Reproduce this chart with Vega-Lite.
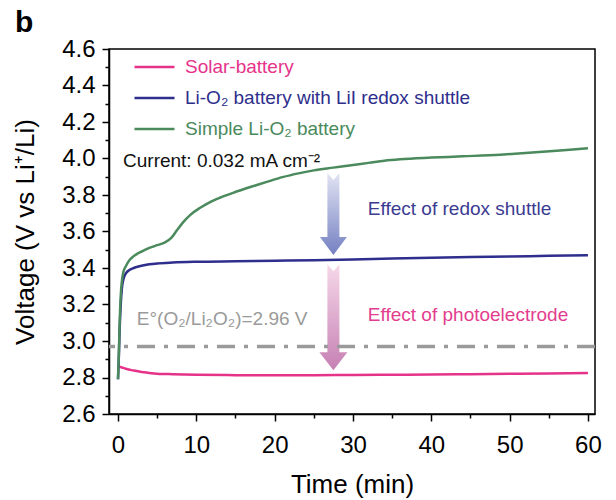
{
  "$schema": "https://vega.github.io/schema/vega-lite/v6.json",
  "width": 486,
  "height": 365,
  "autosize": {"type": "none"},
  "padding": {"left": 109, "top": 49, "right": 21, "bottom": 86},
  "title": {"text": "b", "anchor": "start", "frame": "group", "fontSize": 30, "fontWeight": "bold", "dx": -94, "dy": 41, "offset": 16, "baseline": "alphabetic", "color": "black", "font": "Liberation Sans"},
  "config": {
    "font": "Liberation Sans",
    "view": {"stroke": "black", "strokeWidth": 1.5},
    "axis": {
      "domainColor": "black", "domainWidth": 1.5, "tickColor": "black", "tickWidth": 1.5,
      "labelColor": "black", "labelFontSize": 24, "titleFontSize": 26, "titleFontWeight": "normal", "titleColor": "black",
      "grid": false, "labelFont": "Liberation Sans", "titleFont": "Liberation Sans", "labelOverlap": false
    }
  },
  "datasets": {
    "curves": [
      {"series": "Solar-battery", "t": 0, "v": 2.862},
      {"series": "Solar-battery", "t": 0.5, "v": 2.855},
      {"series": "Solar-battery", "t": 1, "v": 2.848},
      {"series": "Solar-battery", "t": 2, "v": 2.838},
      {"series": "Solar-battery", "t": 3, "v": 2.83},
      {"series": "Solar-battery", "t": 4, "v": 2.825},
      {"series": "Solar-battery", "t": 5, "v": 2.821},
      {"series": "Solar-battery", "t": 7, "v": 2.818},
      {"series": "Solar-battery", "t": 10, "v": 2.815},
      {"series": "Solar-battery", "t": 15, "v": 2.813},
      {"series": "Solar-battery", "t": 20, "v": 2.812},
      {"series": "Solar-battery", "t": 25, "v": 2.812},
      {"series": "Solar-battery", "t": 30, "v": 2.814},
      {"series": "Solar-battery", "t": 35, "v": 2.815},
      {"series": "Solar-battery", "t": 40, "v": 2.816},
      {"series": "Solar-battery", "t": 45, "v": 2.818},
      {"series": "Solar-battery", "t": 50, "v": 2.82},
      {"series": "Solar-battery", "t": 55, "v": 2.822},
      {"series": "Solar-battery", "t": 60, "v": 2.824},
      {"series": "Li-O₂ battery with LiI redox shuttle", "t": 0, "v": 2.79},
      {"series": "Li-O₂ battery with LiI redox shuttle", "t": 0.1, "v": 2.9},
      {"series": "Li-O₂ battery with LiI redox shuttle", "t": 0.2, "v": 3.05},
      {"series": "Li-O₂ battery with LiI redox shuttle", "t": 0.35, "v": 3.2},
      {"series": "Li-O₂ battery with LiI redox shuttle", "t": 0.5, "v": 3.29},
      {"series": "Li-O₂ battery with LiI redox shuttle", "t": 0.7, "v": 3.34},
      {"series": "Li-O₂ battery with LiI redox shuttle", "t": 1, "v": 3.37},
      {"series": "Li-O₂ battery with LiI redox shuttle", "t": 1.5, "v": 3.39},
      {"series": "Li-O₂ battery with LiI redox shuttle", "t": 2, "v": 3.4},
      {"series": "Li-O₂ battery with LiI redox shuttle", "t": 3, "v": 3.412},
      {"series": "Li-O₂ battery with LiI redox shuttle", "t": 4, "v": 3.42},
      {"series": "Li-O₂ battery with LiI redox shuttle", "t": 5, "v": 3.425},
      {"series": "Li-O₂ battery with LiI redox shuttle", "t": 7, "v": 3.43},
      {"series": "Li-O₂ battery with LiI redox shuttle", "t": 10, "v": 3.434},
      {"series": "Li-O₂ battery with LiI redox shuttle", "t": 15, "v": 3.437},
      {"series": "Li-O₂ battery with LiI redox shuttle", "t": 20, "v": 3.44},
      {"series": "Li-O₂ battery with LiI redox shuttle", "t": 25, "v": 3.443},
      {"series": "Li-O₂ battery with LiI redox shuttle", "t": 30, "v": 3.447},
      {"series": "Li-O₂ battery with LiI redox shuttle", "t": 35, "v": 3.452},
      {"series": "Li-O₂ battery with LiI redox shuttle", "t": 40, "v": 3.456},
      {"series": "Li-O₂ battery with LiI redox shuttle", "t": 45, "v": 3.46},
      {"series": "Li-O₂ battery with LiI redox shuttle", "t": 50, "v": 3.463},
      {"series": "Li-O₂ battery with LiI redox shuttle", "t": 55, "v": 3.467},
      {"series": "Li-O₂ battery with LiI redox shuttle", "t": 60, "v": 3.47},
      {"series": "Simple Li-O₂ battery", "t": 0, "v": 2.79},
      {"series": "Simple Li-O₂ battery", "t": 0.1, "v": 2.92},
      {"series": "Simple Li-O₂ battery", "t": 0.2, "v": 3.08},
      {"series": "Simple Li-O₂ battery", "t": 0.35, "v": 3.25},
      {"series": "Simple Li-O₂ battery", "t": 0.5, "v": 3.33},
      {"series": "Simple Li-O₂ battery", "t": 0.7, "v": 3.38},
      {"series": "Simple Li-O₂ battery", "t": 1, "v": 3.41},
      {"series": "Simple Li-O₂ battery", "t": 1.5, "v": 3.445},
      {"series": "Simple Li-O₂ battery", "t": 2, "v": 3.465},
      {"series": "Simple Li-O₂ battery", "t": 3, "v": 3.49},
      {"series": "Simple Li-O₂ battery", "t": 4, "v": 3.51},
      {"series": "Simple Li-O₂ battery", "t": 5, "v": 3.525},
      {"series": "Simple Li-O₂ battery", "t": 6, "v": 3.54},
      {"series": "Simple Li-O₂ battery", "t": 6.8, "v": 3.565},
      {"series": "Simple Li-O₂ battery", "t": 7.5, "v": 3.605},
      {"series": "Simple Li-O₂ battery", "t": 8.3, "v": 3.65},
      {"series": "Simple Li-O₂ battery", "t": 9.2, "v": 3.69},
      {"series": "Simple Li-O₂ battery", "t": 10.5, "v": 3.73},
      {"series": "Simple Li-O₂ battery", "t": 11.7, "v": 3.76},
      {"series": "Simple Li-O₂ battery", "t": 13, "v": 3.785},
      {"series": "Simple Li-O₂ battery", "t": 14.7, "v": 3.812},
      {"series": "Simple Li-O₂ battery", "t": 17, "v": 3.845},
      {"series": "Simple Li-O₂ battery", "t": 19, "v": 3.872},
      {"series": "Simple Li-O₂ battery", "t": 21, "v": 3.898},
      {"series": "Simple Li-O₂ battery", "t": 23.2, "v": 3.92},
      {"series": "Simple Li-O₂ battery", "t": 25, "v": 3.935},
      {"series": "Simple Li-O₂ battery", "t": 27.5, "v": 3.95},
      {"series": "Simple Li-O₂ battery", "t": 30, "v": 3.965},
      {"series": "Simple Li-O₂ battery", "t": 32, "v": 3.976},
      {"series": "Simple Li-O₂ battery", "t": 34, "v": 3.988},
      {"series": "Simple Li-O₂ battery", "t": 36, "v": 3.996},
      {"series": "Simple Li-O₂ battery", "t": 40, "v": 4.005},
      {"series": "Simple Li-O₂ battery", "t": 44, "v": 4.012},
      {"series": "Simple Li-O₂ battery", "t": 48.8, "v": 4.021},
      {"series": "Simple Li-O₂ battery", "t": 52, "v": 4.03},
      {"series": "Simple Li-O₂ battery", "t": 56, "v": 4.043},
      {"series": "Simple Li-O₂ battery", "t": 60, "v": 4.056}
    ],
    "arrows": [
      {"effect": "redox", "t": 27.5, "v": 3.92},
      {"effect": "photo", "t": 27.5, "v": 3.42}
    ],
    "reference": [
      {"name": "E0", "v": 2.97}
    ],
    "notes": [
      {"kind": "current", "t": 0.64, "v": 3.953, "label": "Current: 0.032 mA cm⁻²"},
      {"kind": "redox", "t": 31.9, "v": 3.69, "label": "Effect of redox shuttle"},
      {"kind": "photo", "t": 31.9, "v": 3.109, "label": "Effect of photoelectrode"},
      {"kind": "e0", "t": 2.4, "v": 3.088, "label": "E°(O₂/Li₂O₂)=2.96 V"}
    ]
  },
  "layer": [
    {
      "data": {"name": "curves"},
      "mark": {"type": "line", "strokeWidth": 2.5, "interpolate": "monotone"},
      "encoding": {
        "x": {"field": "t", "type": "quantitative", "title": "Time (min)",
          "scale": {"domain": [-1.15, 60.9], "nice": false, "zero": false},
          "axis": {"values": [0, 5, 10, 15, 20, 25, 30, 35, 40, 45, 50, 55, 60], "tickCount": 100, "labelExpr": "datum.value % 10 === 0 ? format(datum.value, '.0f') : ''",
            "tickSize": {"condition": {"test": "datum.value % 10 === 0", "value": 7}, "value": 4}, "labelPadding": 12, "titlePadding": 14, "labelFlush": false, "labelOverlap": false}},
        "y": {"field": "v", "type": "quantitative", "title": "Voltage (V vs Li⁺/Li)",
          "scale": {"domain": [2.6, 4.6], "nice": false, "zero": false},
          "axis": {"values": [2.6, 2.7, 2.8, 2.9, 3.0, 3.1, 3.2, 3.3, 3.4, 3.5, 3.6, 3.7, 3.8, 3.9, 4.0, 4.1, 4.2, 4.3, 4.4, 4.5, 4.6], "tickCount": 100,
            "labelExpr": "round(datum.value * 10) % 2 === 0 ? format(datum.value, '.1f') : ''",
            "tickSize": {"condition": {"test": "round(datum.value * 10) % 2 === 0", "value": 7}, "value": 4}, "labelPadding": 7, "titlePadding": 23, "labelFlush": false, "labelOverlap": false, "labelBound": false}},
        "color": {"field": "series", "type": "nominal",
          "scale": {"domain": ["Solar-battery", "Li-O₂ battery with LiI redox shuttle", "Simple Li-O₂ battery"], "range": ["#e6338a", "#2e2e8c", "#4a8a5c"]},
          "legend": {"title": null, "orient": "none", "legendX": 24, "legendY": 3, "symbolType": "stroke", "symbolSize": 1600, "symbolStrokeWidth": 2.5,
            "labelFontSize": 19, "labelOffset": 9, "rowPadding": 1, "clipHeight": 30, "padding": 0, "labelLimit": 400, "labelFont": "Liberation Sans",
            "encode": {"labels": {"update": {"fill": {"signal": "scale('color', datum.value)"}}}}}}
      }
    },
    {
      "data": {"name": "arrows"},
      "transform": [{"filter": "datum.effect === 'redox'"}],
      "mark": {"type": "point", "shape": "M -0.6 0 L 0 0.7 L 0.6 0 L 0.6 6.4 L 1.35 6.4 L 0 8.2 L -1.35 6.4 L -0.6 6.4 Z", "size": 400, "filled": true, "opacity": 1, "strokeWidth": 0,
        "fill": {"gradient": "linear", "x1": 0, "y1": 0, "x2": 0, "y2": 1, "stops": [{"offset": 0, "color": "#e2e4f3"}, {"offset": 1, "color": "#7480c2"}]}},
      "encoding": {
        "x": {"field": "t", "type": "quantitative", "title": "Time (min)"},
        "y": {"field": "v", "type": "quantitative", "title": "Voltage (V vs Li⁺/Li)"}
      }
    },
    {
      "data": {"name": "arrows"},
      "transform": [{"filter": "datum.effect === 'photo'"}],
      "mark": {"type": "point", "shape": "M -0.6 0 L 0 0.7 L 0.6 0 L 0.6 8.8 L 1.4 8.8 L 0 10.6 L -1.4 8.8 L -0.6 8.8 Z", "size": 400, "filled": true, "opacity": 1, "strokeWidth": 0,
        "fill": {"gradient": "linear", "x1": 0, "y1": 0, "x2": 0, "y2": 1, "stops": [{"offset": 0, "color": "#f6d8e8"}, {"offset": 1, "color": "#c680b4"}]}},
      "encoding": {
        "x": {"field": "t", "type": "quantitative", "title": "Time (min)"},
        "y": {"field": "v", "type": "quantitative", "title": "Voltage (V vs Li⁺/Li)"}
      }
    },
    {
      "data": {"name": "reference"},
      "mark": {"type": "rule", "color": "#9a9a9a", "strokeWidth": 3.5, "strokeDash": [18, 9, 4, 9]},
      "encoding": {"y": {"field": "v", "type": "quantitative", "title": "Voltage (V vs Li⁺/Li)"}}
    },
    {
      "data": {"name": "notes"},
      "transform": [{"filter": "datum.kind === 'current'"}],
      "mark": {"type": "text", "align": "left", "baseline": "alphabetic", "fontSize": 19, "color": "#111111"},
      "encoding": {"x": {"field": "t", "type": "quantitative", "title": "Time (min)"}, "y": {"field": "v", "type": "quantitative", "title": "Voltage (V vs Li⁺/Li)"}, "text": {"field": "label"}}
    },
    {
      "data": {"name": "notes"},
      "transform": [{"filter": "datum.kind === 'redox'"}],
      "mark": {"type": "text", "align": "left", "baseline": "alphabetic", "fontSize": 19, "color": "#3b3b91"},
      "encoding": {"x": {"field": "t", "type": "quantitative", "title": "Time (min)"}, "y": {"field": "v", "type": "quantitative", "title": "Voltage (V vs Li⁺/Li)"}, "text": {"field": "label"}}
    },
    {
      "data": {"name": "notes"},
      "transform": [{"filter": "datum.kind === 'photo'"}],
      "mark": {"type": "text", "align": "left", "baseline": "alphabetic", "fontSize": 19, "color": "#e23d8e"},
      "encoding": {"x": {"field": "t", "type": "quantitative", "title": "Time (min)"}, "y": {"field": "v", "type": "quantitative", "title": "Voltage (V vs Li⁺/Li)"}, "text": {"field": "label"}}
    },
    {
      "data": {"name": "notes"},
      "transform": [{"filter": "datum.kind === 'e0'"}],
      "mark": {"type": "text", "align": "left", "baseline": "alphabetic", "fontSize": 19, "color": "#9a9a9a"},
      "encoding": {"x": {"field": "t", "type": "quantitative", "title": "Time (min)"}, "y": {"field": "v", "type": "quantitative", "title": "Voltage (V vs Li⁺/Li)"}, "text": {"field": "label"}}
    }
  ]
}
